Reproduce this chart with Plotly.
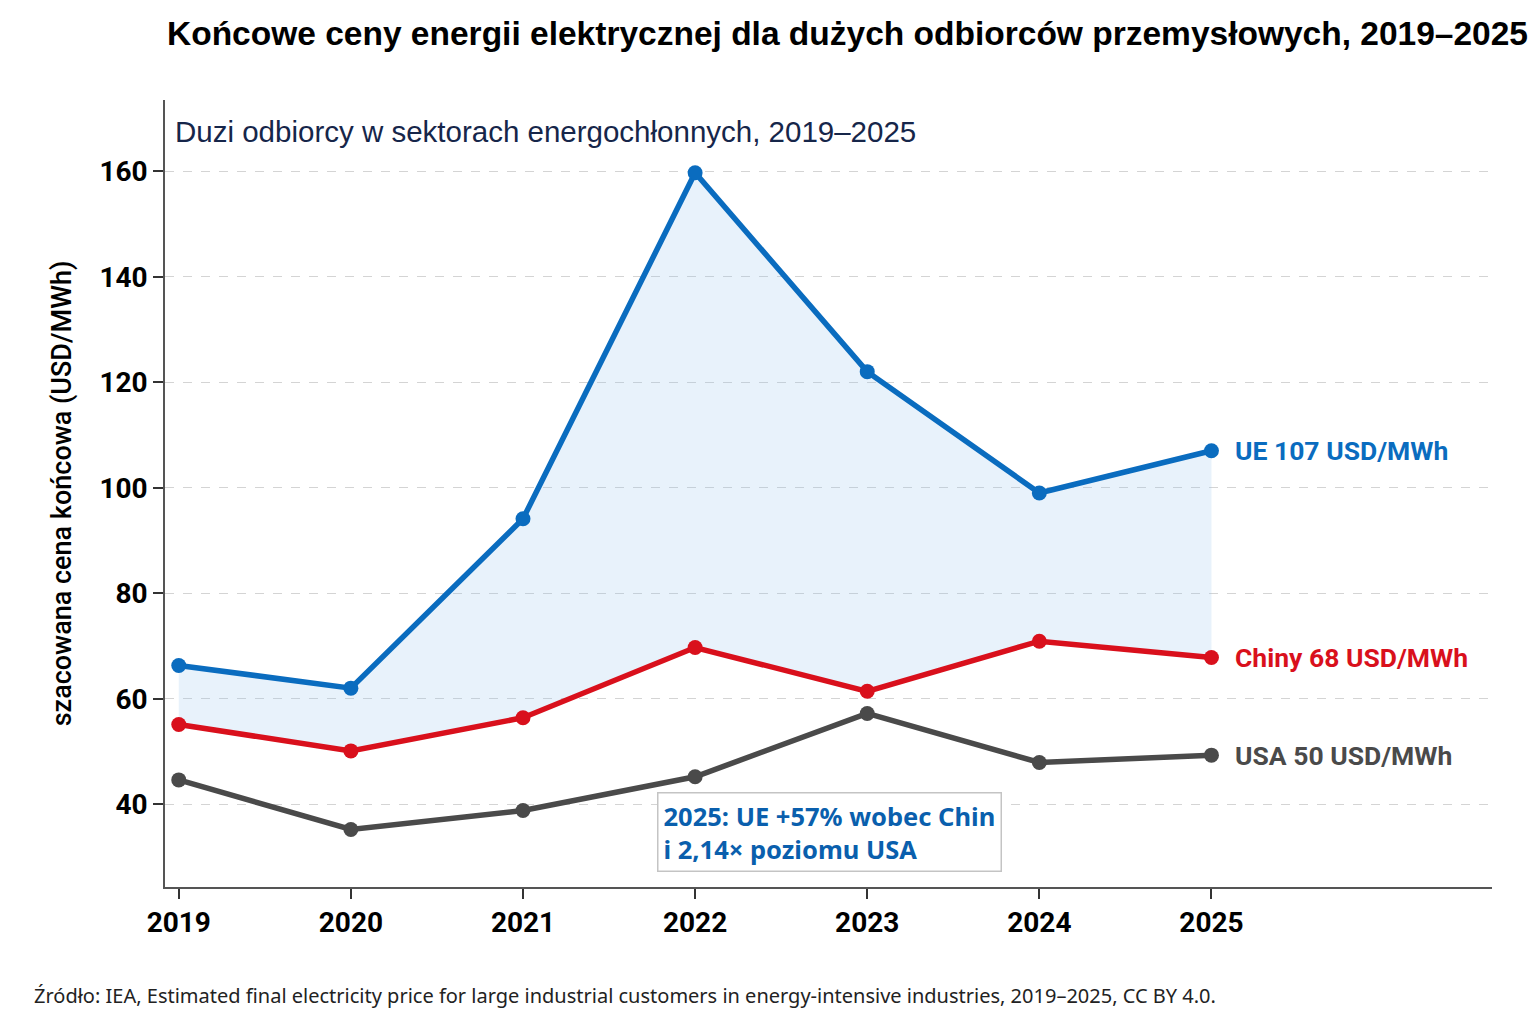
import plotly.graph_objects as go

years = [2019, 2020, 2021, 2022, 2023, 2024, 2025]
eu = [66.3, 62.0, 94.1, 159.7, 122.0, 99.0, 107.0]
china = [55.1, 50.1, 56.4, 69.7, 61.4, 70.9, 67.8]
usa = [44.6, 35.2, 38.8, 45.2, 57.2, 47.9, 49.3]

y_ticks = [40, 60, 80, 100, 120, 140, 160]
end_labels = ["UE 107 USD/MWh", "Chiny 68 USD/MWh", "USA 50 USD/MWh"]

C_EU = "#0a6cbf"
C_CN = "#d9101c"
C_US = "#4a4a4a"

fig = go.Figure()
fig.add_trace(go.Scatter(x=years, y=china, mode="lines+markers",
                         line=dict(color=C_CN, width=5.5),
                         marker=dict(size=15, color=C_CN), showlegend=False))
fig.add_trace(go.Scatter(x=years, y=eu, mode="lines+markers",
                         line=dict(color=C_EU, width=5.5),
                         marker=dict(size=15, color=C_EU),
                         fill="tonexty", fillcolor="rgba(150,195,235,0.22)",
                         showlegend=False))
fig.add_trace(go.Scatter(x=years, y=usa, mode="lines+markers",
                         line=dict(color=C_US, width=5.5),
                         marker=dict(size=15, color=C_US), showlegend=False))

for lab, ser, col in zip(end_labels, [eu, china, usa], [C_EU, C_CN, C_US]):
    fig.add_annotation(x=years[-1], y=ser[-1], text="<b>" + lab + "</b>",
                       showarrow=False, xanchor="left", yanchor="middle",
                       xshift=22, font=dict(family="Roboto", size=26.5, color=col))

fig.add_annotation(x=2021.78, y=42.4, xanchor="left", yanchor="top",
                   text="<b>2025: UE +57% wobec Chin<br>i 2,14× poziomu USA</b>",
                   align="left", showarrow=False,
                   font=dict(family="Noto Sans", size=25.5, color="#0a5fad"),
                   bgcolor="white", bordercolor="#c4c4c4", borderwidth=1.5,
                   borderpad=5)

fig.add_annotation(xref="paper", yref="paper", x=0.006, y=0.96,
                   xanchor="left", yanchor="middle", showarrow=False,
                   text="Duzi odbiorcy w sektorach energochłonnych, 2019–2025",
                   font=dict(family="Liberation Sans", size=29.5, color="#16264a"))

fig.add_annotation(xref="paper", yref="paper", x=0.514, y=1.0, yanchor="middle",
                   yshift=67, showarrow=False,
                   text="<b>Końcowe ceny energii elektrycznej dla dużych odbiorców przemysłowych, 2019–2025</b>",
                   font=dict(family="Liberation Sans", size=33.5, color="black"))

fig.add_annotation(xref="paper", yref="paper", x=-0.1, y=-0.138, xanchor="left",
                   yanchor="middle", showarrow=False,
                   text="Źródło: IEA, Estimated final electricity price for large industrial customers in energy-intensive industries, 2019–2025, CC BY 4.0.",
                   font=dict(family="Noto Sans", size=20, color="#222"))

fig.update_layout(
    width=1537, height=1023,
    margin=dict(l=157, r=53, t=92, b=144),
    plot_bgcolor="white", paper_bgcolor="white",
    font=dict(family="Roboto"),
)
fig.update_xaxes(range=[2018.92, 2026.63], tickvals=years,
                 ticktext=["<b>%d</b>" % y for y in years],
                 showgrid=False, showline=True, linecolor="#555", linewidth=1.5,
                 ticks="outside", ticklen=10, tickcolor="#333", tickwidth=2,
                 tickfont=dict(family="Roboto", size=28, color="black"), zeroline=False)
fig.update_yaxes(range=[24.3, 173.5], tickvals=y_ticks,
                 ticktext=["<b>%d</b>" % v for v in y_ticks],
                 showgrid=True, gridcolor="#d4d4d4", griddash="dash", gridwidth=1,
                 showline=True, linecolor="#555", linewidth=1.5,
                 ticks="outside", ticklen=10, tickcolor="#333", tickwidth=2,
                 tickfont=dict(family="Roboto", size=28, color="black"), zeroline=False,
                 title=dict(text="szacowana cena końcowa (USD/MWh)",
                            font=dict(family="Roboto", size=27, color="black", weight=500),
                            standoff=20))

fig.write_html("out.html")
